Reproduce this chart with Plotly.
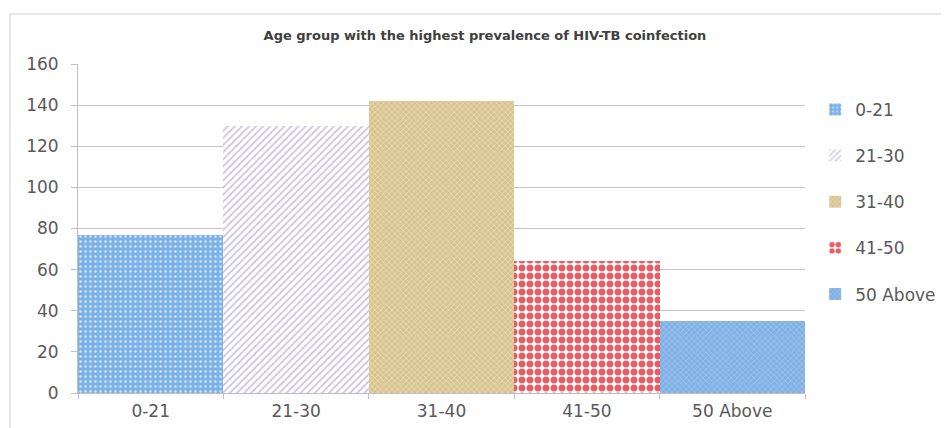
import plotly.graph_objects as go

categories = ["0-21", "21-30", "31-40", "41-50", "50 Above"]
values = [77, 130, 142, 64, 35]
y_ticks = [0, 20, 40, 60, 80, 100, 120, 140, 160]

styles = [
    dict(bg="#7DB2E7", fg="#D3E5F8", shape=".", size=5, sol=0.18),
    dict(bg="#FFFFFF", fg="#CEC5E2", shape="/", size=5, sol=0.35),
    dict(bg="#D7C38E", fg="#EEE3C4", shape="x", size=4, sol=0.3),
    dict(bg="#FFFFFF", fg="#E35F66", shape=".", size=8, sol=0.6),
    dict(bg="#7FB1E4", fg="#A6C9EE", shape="x", size=4, sol=0.3),
]

fig = go.Figure()
for cat, val, st in zip(categories, values, styles):
    fig.add_trace(go.Bar(
        x=[cat], y=[val], name=cat, legendgroup=cat,
        marker=dict(
            color=st["bg"],
            line=dict(width=0),
            pattern=dict(shape=st["shape"], fgcolor=st["fg"], bgcolor=st["bg"],
                         size=st["size"], solidity=st["sol"], fillmode="overlay",
                         fgopacity=1),
        ),
    ))

FONT = "DejaVu Sans, sans-serif"
fig.update_layout(
    width=949, height=428,
    margin=dict(l=70, r=152, t=56, b=43, autoexpand=False),
    paper_bgcolor="white", plot_bgcolor="white",
    barmode="overlay", bargap=0,
    font=dict(family=FONT, color="#595959", size=17),
    title=dict(text="<b>Age group with the highest prevalence of HIV-TB coinfection</b>",
               x=477 / 949, xanchor="center", xref="container",
               y=1 - 27 / 428, yanchor="middle", yref="container",
               font=dict(size=13, color="#404040", family=FONT)),
    xaxis=dict(type="category", categoryorder="array", categoryarray=categories,
               showline=True, linecolor="#C4BCC4", ticks="outside", ticklen=5,
               tickcolor="#C4BCC4", tickson="boundaries", showgrid=False,
               ticklabelstandoff=3,
               tickfont=dict(size=17, color="#595959")),
    yaxis=dict(range=[0, 160], tickvals=y_ticks, showline=True, linecolor="#C4BCC4",
               ticks="outside", ticklen=6, tickcolor="#C4BCC4", showgrid=True,
               gridcolor="#C9C2C9", gridwidth=1, zeroline=False,
               ticklabelstandoff=9,
               tickfont=dict(size=17, color="#595959")),
    legend=dict(x=1.014, y=0.915, xanchor="left", yanchor="top",
                font=dict(size=17, color="#595959"), tracegroupgap=21,
                itemwidth=30, bgcolor="rgba(0,0,0,0)"),
    showlegend=True,
    shapes=[dict(type="rect", xref="paper", yref="paper",
                 x0=(2 - 70) / 727, x1=1.3, y0=-0.3, y1=1 + (56 - 6) / 329,
                 line=dict(color="#D0D0D0", width=1), fillcolor="rgba(0,0,0,0)",
                 layer="below")],
)

fig.write_html("out.html")
